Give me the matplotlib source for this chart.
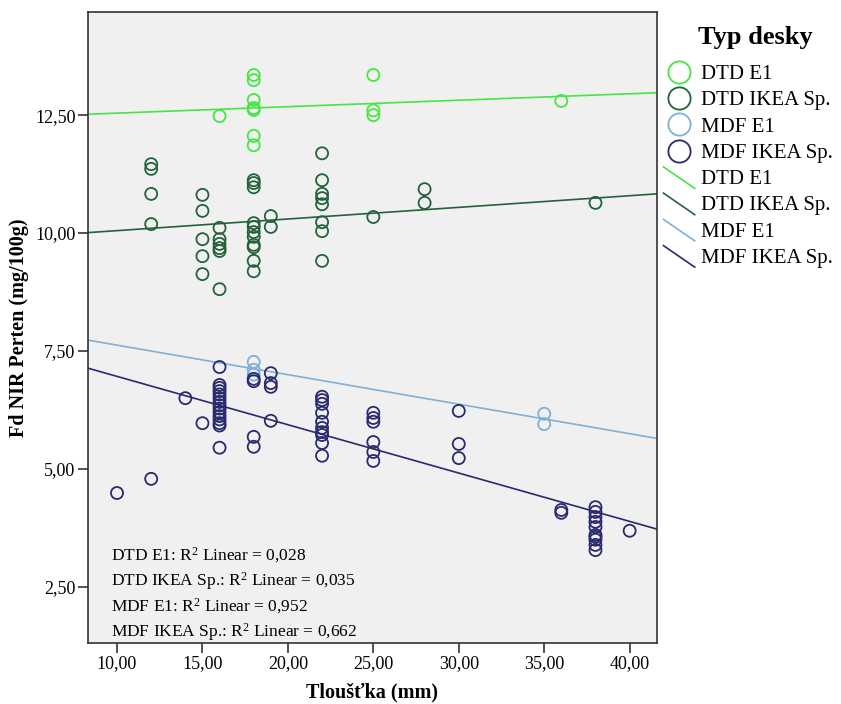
import numpy as np
import matplotlib
matplotlib.use("Agg")
import matplotlib.pyplot as plt
from matplotlib.lines import Line2D
from matplotlib.legend_handler import HandlerBase

plt.rcParams['font.family'] = ['Liberation Serif', 'DejaVu Serif']
plt.rcParams['mathtext.fontset'] = 'custom'
plt.rcParams['mathtext.rm'] = 'Liberation Serif'
plt.rcParams['mathtext.it'] = 'Liberation Serif:italic'

# thickness (mm) and formaldehyde values
dtd_e1_x = [16, 18, 18, 18, 18, 18, 18, 18, 25, 25, 25, 36]
dtd_e1_y = [12.48, 13.35, 13.24, 12.82, 12.65, 12.61, 12.06, 11.86, 13.35, 12.60, 12.50, 12.80]

dtd_ikea_x = [12, 12, 12, 12,
              15, 15, 15, 15, 15,
              16, 16, 16, 16, 16, 16,
              18, 18, 18, 18, 18, 18, 18, 18, 18, 18, 18,
              19, 19,
              22, 22, 22, 22, 22, 22, 22, 22,
              25, 28, 28, 38]
dtd_ikea_y = [11.46, 11.36, 10.83, 10.19,
              10.81, 10.47, 9.87, 9.51, 9.13,
              10.11, 9.87, 9.77, 9.68, 9.62, 8.81,
              11.12, 11.06, 10.97, 10.21, 10.13, 10.02, 9.92, 9.75, 9.70, 9.41, 9.19,
              10.36, 10.13,
              11.69, 11.12, 10.83, 10.74, 10.61, 10.23, 10.04, 9.41,
              10.34, 10.93, 10.64, 10.64]

mdf_e1_x = [18, 18, 18, 35, 35]
mdf_e1_y = [7.27, 7.10, 7.00, 6.17, 5.95]

mdf_ikea_x = [10, 12, 14, 15,
              16, 16, 16, 16, 16, 16, 16, 16, 16, 16, 16, 16, 16, 16, 16,
              18, 18, 18, 18,
              19, 19, 19, 19,
              22, 22, 22, 22, 22, 22, 22, 22, 22, 22,
              25, 25, 25, 25, 25, 25,
              30, 30, 30,
              36, 36,
              38, 38, 38, 38, 38, 38, 38, 38, 38, 38,
              40]
mdf_ikea_y = [4.49, 4.79, 6.50, 5.97,
              7.16, 6.78, 6.72, 6.65, 6.58, 6.50, 6.42, 6.35, 6.28, 6.20, 6.12, 6.05, 5.97, 5.92, 5.45,
              6.91, 6.86, 5.68, 5.47,
              7.03, 6.82, 6.74, 6.02,
              6.53, 6.46, 6.38, 6.19, 6.00, 5.87, 5.78, 5.72, 5.55, 5.28,
              6.19, 6.08, 6.00, 5.57, 5.36, 5.17,
              6.23, 5.53, 5.23,
              4.13, 4.07,
              4.19, 4.09, 3.98, 3.88, 3.77, 3.60, 3.56, 3.50, 3.39, 3.28,
              3.69]

labels = ['DTD E1', 'DTD IKEA Sp.', 'MDF E1', 'MDF IKEA Sp.']
colors = ['#44e644', '#24623a', '#7fb0d8', '#2a2a6e']
r2_texts = ['0,028', '0,035', '0,952', '0,662']

series = [(dtd_e1_x, dtd_e1_y), (dtd_ikea_x, dtd_ikea_y),
          (mdf_e1_x, mdf_e1_y), (mdf_ikea_x, mdf_ikea_y)]


class DiagonalLineHandler(HandlerBase):
    def create_artists(self, legend, orig_handle, xdescent, ydescent,
                       width, height, fontsize, trans):
        line = Line2D([-xdescent, -xdescent + width],
                      [height + 2, -ydescent - 3],
                      color=orig_handle.get_color(), lw=1.2)
        line.set_transform(trans)
        return [line]


fig = plt.figure(figsize=(8.41, 7.04), dpi=100)
ax = fig.add_axes([0.1046, 0.0866, 0.6766, 0.896])
ax.set_facecolor('#f0f0f0')

xlim = (8.3, 41.6)
ax.set_xlim(*xlim)
ax.set_ylim(1.31, 14.68)

scatter_handles = []
line_handles = []
xs = np.array(xlim)
for (x, y), lab, col in zip(series, labels, colors):
    h = ax.scatter(x, y, s=75, facecolors='none', edgecolors=col, linewidths=1.3, zorder=3)
    scatter_handles.append(h)
    k, q = np.polyfit(x, y, 1)
    ln, = ax.plot(xs, k * xs + q, color=col, lw=1.2, zorder=2)
    line_handles.append(ln)

xticks = [10, 15, 20, 25, 30, 35, 40]
yticks = [2.5, 5.0, 7.5, 10.0, 12.5]
ax.set_xticks(xticks)
ax.set_yticks(yticks)
ax.set_xticklabels([f'{t:.2f}'.replace('.', ',') for t in xticks], fontsize=13)
ax.set_yticklabels([f'{t:.2f}'.replace('.', ',') for t in yticks], fontsize=13)
ax.tick_params(direction='out', length=7, width=1.2, color='#333333', pad=2)
for sp in ax.spines.values():
    sp.set_color('#333333')
    sp.set_linewidth(1.2)

ax.set_xlabel('Tloušťka (mm)', fontsize=14.5, fontweight='bold', labelpad=7)
ax.set_ylabel('Fd NIR Perten (mg/100g)', fontsize=14.5, fontweight='bold', labelpad=4)

for i, (lab, r2) in enumerate(zip(labels, r2_texts)):
    ax.text(0.04, 0.139 - i * 0.0405, f'{lab}: R$^2$ Linear = {r2}',
            transform=ax.transAxes, fontsize=12.5, va='center', ha='left')

fig.text(0.898, 0.947, 'Typ desky', fontsize=19, fontweight='bold', ha='center', va='center')

leg_handles = []
for h, col in zip(scatter_handles, colors):
    leg_handles.append(Line2D([], [], marker='o', ls='none', markersize=16,
                              markerfacecolor='none', markeredgecolor=col, markeredgewidth=1.3))
leg = fig.legend(leg_handles + line_handles, labels + labels,
                 loc='upper left', bbox_to_anchor=(0.779, 0.92), frameon=False,
                 fontsize=15, handlelength=1.5, handletextpad=0.3,
                 labelspacing=0.32, borderaxespad=0,
                 handler_map={l: DiagonalLineHandler() for l in line_handles})

fig.savefig('out.png', dpi=100)
